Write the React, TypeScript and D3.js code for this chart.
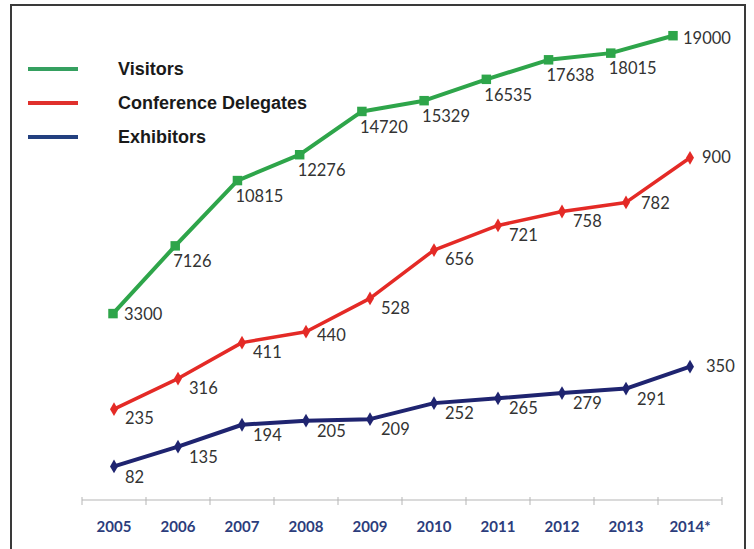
import React, { useEffect, useRef } from 'react';
import * as d3 from 'd3';

const years = ['2005', '2006', '2007', '2008', '2009', '2010', '2011', '2012', '2013', '2014*'];
const visitors = [3300, 7126, 10815, 12276, 14720, 15329, 16535, 17638, 18015, 19000];
const delegates = [235, 316, 411, 440, 528, 656, 721, 758, 782, 900];
const exhibitors = [82, 135, 194, 205, 209, 252, 265, 279, 291, 350];
const legendLabels = ['Visitors', 'Conference Delegates', 'Exhibitors'];

const GREEN = '#2ea54a';
const RED = '#e42a26';
const NAVY = '#1f2470';

const W = 754;
const H = 549;

const App: React.FC = () => {
  const svgRef = useRef<SVGSVGElement>(null);

  useEffect(() => {
    if (!svgRef.current) return;
    const svg = d3.select(svgRef.current);
    svg.selectAll('*').remove();

    // frame
    svg.append('rect').attr('width', W).attr('height', H).attr('fill', '#fff');
    svg.append('rect')
      .attr('x', 11).attr('y', 5).attr('width', 734).attr('height', H + 10)
      .attr('fill', 'none').attr('stroke', '#3a3a3a').attr('stroke-width', 2);

    // x axis (band ticks)
    const x = d3.scaleBand<string>().domain(years).range([82, 722]);
    const xc = (d: string) => (x(d) ?? 0) + x.bandwidth() / 2;
    // visitors chart sits slightly narrower
    const xv = d3.scalePoint<string>().domain(years).range([113, 673]);

    const axisY = 500;
    const ax = svg.append('g');
    ax.append('line')
      .attr('x1', 82).attr('x2', 722).attr('y1', axisY).attr('y2', axisY)
      .attr('stroke', '#b5b5b5').attr('stroke-width', 1);
    const tickPos = years.map(d => x(d) ?? 0).concat([722]);
    ax.selectAll('line.tick').data(tickPos).join('line')
      .attr('class', 'tick')
      .attr('x1', d => d).attr('x2', d => d)
      .attr('y1', axisY - 3).attr('y2', axisY + 5)
      .attr('stroke', '#b5b5b5');
    ax.selectAll('text').data(years).join('text')
      .attr('x', d => xc(d)).attr('y', 528)
      .attr('text-anchor', 'middle').attr('dominant-baseline', 'middle')
      .attr('font-family', 'Lato, "Open Sans", sans-serif')
      .attr('font-weight', 700).attr('font-size', 15)
      .attr('fill', '#2c3d7c')
      .text(d => d);

    const yV = d3.scaleLinear().domain([0, 20000]).range([372, 18]);
    const yD = d3.scaleLinear().domain([0, 1000]).range([498, 120]);
    const yE = d3.scaleLinear().domain([0, 400]).range([497, 348]);

    type Series = {
      values: number[];
      xf: (d: string) => number;
      y: d3.ScaleLinear<number, number>;
      color: string;
      marker: 'square' | 'diamond';
      width: number;
      off: (i: number) => [number, number];
    };

    const series: Series[] = [
      {
        values: visitors, xf: d => xv(d) ?? 0, y: yV, color: GREEN, marker: 'square', width: 4,
        off: i => (i === 0 ? [11, 2] : i === years.length - 1 ? [10, 4] : [-2, 17]),
      },
      {
        values: delegates, xf: xc, y: yD, color: RED, marker: 'diamond', width: 3.5,
        off: i => (i === years.length - 1 ? [12, 1] : i === 8 ? [15, 2] : i === 3 ? [11, 5] : [11, 11]),
      },
      {
        values: exhibitors, xf: xc, y: yE, color: NAVY, marker: 'diamond', width: 4,
        off: i => (i === years.length - 1 ? [16, 1] : [11, 12]),
      },
    ];

    series.forEach(s => {
      const pts = s.values.map((v, i) => [s.xf(years[i]), s.y(v)] as [number, number]);
      const g = svg.append('g');
      g.append('path')
        .attr('d', d3.line()(pts) ?? '')
        .attr('fill', 'none').attr('stroke', s.color)
        .attr('stroke-width', s.width).attr('stroke-linejoin', 'round');
      const sym = d3.symbol()
        .type(s.marker === 'square' ? d3.symbolSquare : d3.symbolDiamond)
        .size(s.marker === 'square' ? 90 : 55);
      g.selectAll('path.m').data(pts).join('path')
        .attr('class', 'm')
        .attr('d', sym() ?? '')
        .attr('transform', d => `translate(${d[0]},${d[1]})`)
        .attr('fill', s.color);
      g.selectAll('text').data(s.values).join('text')
        .attr('x', (_, i) => pts[i][0] + s.off(i)[0])
        .attr('y', (_, i) => pts[i][1] + s.off(i)[1])
        .attr('dominant-baseline', 'middle')
        .attr('font-family', 'Lato, "Open Sans", sans-serif')
        .attr('font-size', 16.5)
        .attr('fill', '#333')
        .text(d => String(d));
    });

    // legend
    const legColors = ['#35a060', '#e0302c', '#23407f'];
    const leg = svg.append('g');
    const ly = [69, 103, 137];
    legendLabels.forEach((t, i) => {
      leg.append('line')
        .attr('x1', 28).attr('x2', 78).attr('y1', ly[i]).attr('y2', ly[i])
        .attr('stroke', legColors[i]).attr('stroke-width', 4);
      leg.append('text')
        .attr('x', 118).attr('y', ly[i] + 1)
        .attr('dominant-baseline', 'middle')
        .attr('font-family', '"Liberation Sans", Arial, sans-serif')
        .attr('font-weight', 700).attr('font-size', 18)
        .attr('fill', '#1a1a1a')
        .text(t);
    });
  }, []);

  return (
    <div style={{ position: 'absolute', left: 0, top: 0 }}>
      <svg ref={svgRef} width={W} height={H} style={{ display: 'block' }} />
    </div>
  );
};

export default App;
